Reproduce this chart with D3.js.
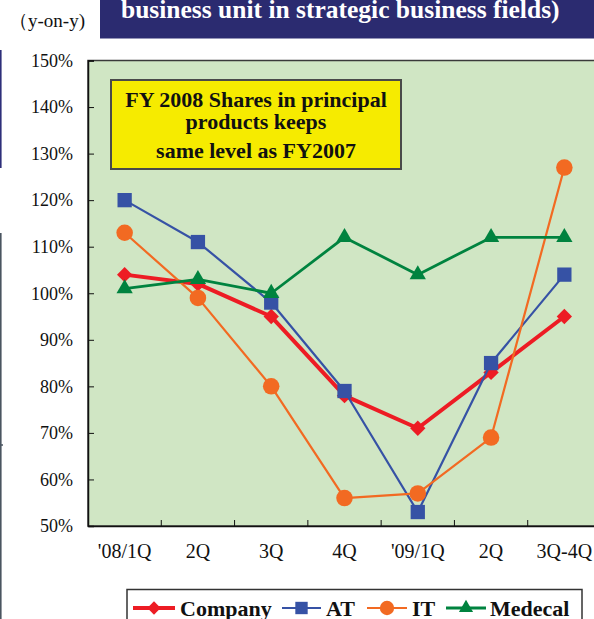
<!DOCTYPE html>
<html>
<head>
<meta charset="utf-8">
<script src="https://cdn.jsdelivr.net/npm/d3@7"></script>
<style>
  html, body { margin: 0; padding: 0; background: #fff; overflow: hidden; }
  svg { display: block; }
</style>
</head>
<body>
<svg id="chart" width="594" height="619"></svg>
<script>
// Quarterly growth (year-on-year) by business unit
const categories = ["'08/1Q", "2Q", "3Q", "4Q", "'09/1Q", "2Q ", "3Q-4Q"];
const company = [1.04, 1.02, 0.95, 0.78, 0.71, 0.83, 0.95];
const at      = [1.20, 1.11, 0.98, 0.79, 0.53, 0.85, 1.04];
const it      = [1.13, 0.99, 0.80, 0.56, 0.57, 0.69, 1.27];
const medecal = [1.01, 1.03, 1.00, 1.12, 1.04, 1.12, 1.12];
const yTicks  = [0.5, 0.6, 0.7, 0.8, 0.9, 1.0, 1.1, 1.2, 1.3, 1.4, 1.5];
const seriesNames = ["Company", "AT", "IT", "Medecal"];

const series = [
  { name: seriesNames[0], values: company, color: "#ED1C24", width: 4,   symbol: d3.symbolDiamond2, size: 150 },
  { name: seriesNames[1], values: at,      color: "#3652A5", width: 2.2, symbol: d3.symbolSquare2,  size: 260 },
  { name: seriesNames[2], values: it,      color: "#F26A22", width: 2.2, symbol: d3.symbolCircle,   size: 215 },
  { name: seriesNames[3], values: medecal, color: "#00833F", width: 2.8, symbol: d3.symbolTriangle2, size: 190 }
];

const svg = d3.select("#chart");
const fontSerif = "'Liberation Serif', 'Times New Roman', serif";

const plot = { left: 88, top: 60.5, right: 601, bottom: 526 };

const x = d3.scaleBand().domain(categories).range([plot.left, plot.right]);
const y = d3.scaleLinear().domain([0.5, 1.5]).range([plot.bottom, plot.top]);

// fragments of neighbouring panels at the left edge
svg.append("line").attr("x1", 0.8).attr("x2", 0.8).attr("y1", 50).attr("y2", 168)
  .attr("stroke", "#2E2F7A").attr("stroke-width", 1.6);
svg.append("line").attr("x1", 0.8).attr("x2", 0.8).attr("y1", 233).attr("y2", 619)
  .attr("stroke", "#4A5560").attr("stroke-width", 1.6);
svg.append("line").attr("x1", 0).attr("x2", 3).attr("y1", 445).attr("y2", 445)
  .attr("stroke", "#4A5560").attr("stroke-width", 1.5);

// header band
svg.append("rect").attr("x", 100).attr("y", 0).attr("width", 494).attr("height", 38.5)
  .attr("fill", "#2B2B70");
svg.append("text").attr("x", 121).attr("y", 18)
  .attr("font-family", fontSerif).attr("font-weight", "bold").attr("font-size", 25.5)
  .attr("fill", "#fff").text("business unit in strategic business fields)");
svg.append("text").attr("x", 9).attr("y", 27)
  .attr("font-family", fontSerif).attr("font-size", 19)
  .attr("fill", "#111").text("（y-on-y)");

// plot background
svg.append("rect")
  .attr("x", plot.left).attr("y", plot.top)
  .attr("width", plot.right - plot.left).attr("height", plot.bottom - plot.top)
  .attr("fill", "#D0E6C4").attr("stroke", "#3a3a3a").attr("stroke-width", 1.5);

// y axis
const yAxis = d3.axisLeft(y).tickValues(yTicks).tickFormat(d3.format(".0%"))
  .tickSize(-6).tickPadding(15);
const gy = svg.append("g").attr("transform", `translate(${plot.left},0)`).call(yAxis);
gy.attr("font-family", fontSerif);
gy.select(".domain").attr("stroke", "#111").attr("stroke-width", 1.5);
gy.selectAll(".tick line").attr("stroke", "#111").attr("stroke-width", 1);
gy.selectAll(".tick text").attr("font-family", fontSerif).attr("font-size", 18).attr("fill", "#111");

// x axis: labels centred in bands, ticks on band boundaries
const xAxis = d3.axisBottom(x).tickSize(0).tickPadding(18);
const gx = svg.append("g").attr("transform", `translate(0,${plot.bottom})`).call(xAxis);
gx.attr("font-family", fontSerif);
gx.select(".domain").attr("stroke", "#111").attr("stroke-width", 1.5);
gx.selectAll(".tick text").attr("font-family", fontSerif).attr("font-size", 20).attr("fill", "#111");
svg.append("g").selectAll("line").data(categories.slice(1)).join("line")
  .attr("x1", d => x(d)).attr("x2", d => x(d))
  .attr("y1", plot.bottom).attr("y2", plot.bottom - 6)
  .attr("stroke", "#111").attr("stroke-width", 1);

// annotation box
svg.append("rect").attr("x", 111).attr("y", 80).attr("width", 290).attr("height", 89)
  .attr("fill", "#F6EB00").attr("stroke", "#4a4a4a").attr("stroke-width", 2);
const note = ["FY 2008 Shares in principal", "products keeps", "same level as FY2007"];
const noteY = [106.5, 128.5, 157.5];
svg.append("g").selectAll("text").data(note).join("text")
  .attr("x", 256).attr("y", (d, i) => noteY[i])
  .attr("text-anchor", "middle")
  .attr("font-family", fontSerif).attr("font-weight", "bold").attr("font-size", 22)
  .attr("fill", "#111").text(d => d);

// series lines and markers
const cx = d => x(d) + x.bandwidth() / 2;
const line = d3.line().x(d => cx(d.c)).y(d => y(d.v));
series.forEach(s => {
  const pts = s.values.map((v, i) => ({ c: categories[i], v }));
  svg.append("path").datum(pts).attr("d", line)
    .attr("fill", "none").attr("stroke", s.color).attr("stroke-width", s.width)
    .attr("stroke-linejoin", "round");
  svg.append("g").selectAll("path").data(pts).join("path")
    .attr("transform", d => `translate(${cx(d.c)},${y(d.v)})`)
    .attr("d", d3.symbol().type(s.symbol).size(s.size))
    .attr("fill", s.color);
});

// legend
svg.append("rect").attr("x", 127).attr("y", 589.5).attr("width", 455).attr("height", 40)
  .attr("fill", "#fff").attr("stroke", "#333").attr("stroke-width", 1.5);
const legendPos = [
  { x1: 133, x2: 175, tx: 180 },
  { x1: 282, x2: 321, tx: 326 },
  { x1: 367, x2: 407, tx: 412 },
  { x1: 446, x2: 486, tx: 490 }
];
const ly = 608;
series.forEach((s, i) => {
  const p = legendPos[i];
  svg.append("line").attr("x1", p.x1).attr("x2", p.x2).attr("y1", ly).attr("y2", ly)
    .attr("stroke", s.color).attr("stroke-width", s.width);
  svg.append("path").attr("transform", `translate(${(p.x1 + p.x2) / 2},${ly})`)
    .attr("d", d3.symbol().type(s.symbol).size(s.size * 0.75)).attr("fill", s.color);
  svg.append("text").attr("x", p.tx).attr("y", 616)
    .attr("font-family", fontSerif).attr("font-weight", "bold").attr("font-size", 22)
    .attr("fill", "#111").text(s.name);
});
</script>
</body>
</html>
